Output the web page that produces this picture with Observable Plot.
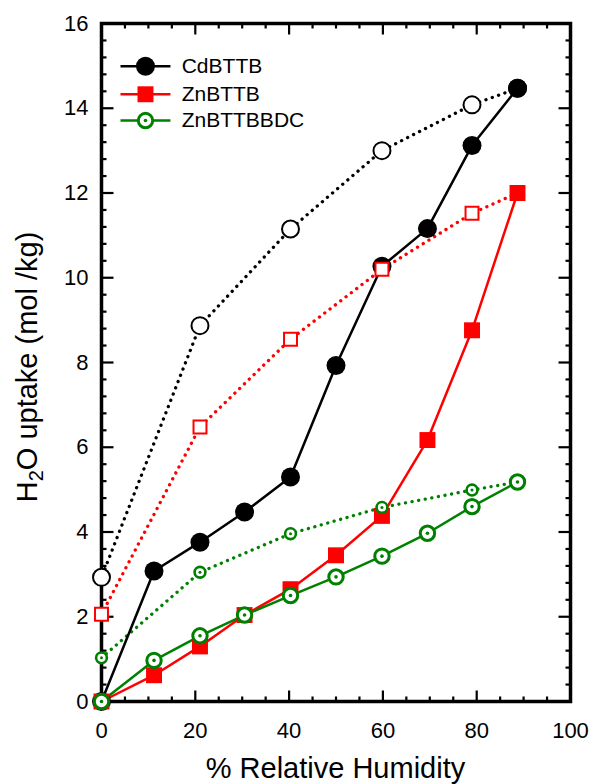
<!DOCTYPE html>
<html><head><meta charset="utf-8">
<script src="https://cdn.jsdelivr.net/npm/d3@7"></script>
<script src="https://cdn.jsdelivr.net/npm/@observablehq/plot@0.6"></script>
<style>body{margin:0;background:#fff} #chart{width:594px;height:784px}</style>
</head><body><div id="chart"></div>
<script>
// ---- data ----
const rhAds = [0, 11.2, 21, 30.5, 40.3, 50, 59.8, 69.5, 79, 88.7];
const rhDes = [88.7, 79, 59.8, 40.3, 21, 0];
const cdAds = [0, 3.08, 3.76, 4.47, 5.3, 7.93, 10.27, 11.16, 13.12, 14.47];
const cdDes = [14.47, 14.08, 13.0, 11.15, 8.87, 2.93];
const znAds = [0, 0.62, 1.3, 2.04, 2.65, 3.45, 4.38, 6.17, 8.76, 12.0];
const znDes = [12.0, 11.52, 10.2, 8.55, 6.48, 2.06];
const bdcAds = [0, 0.97, 1.55, 2.04, 2.5, 2.94, 3.43, 3.97, 4.6, 5.18];
const bdcDes = [5.18, 4.99, 4.58, 3.96, 3.05, 1.03];
const seriesNames = ["CdBTTB", "ZnBTTB", "ZnBTTBBDC"];
const seriesColors = ["#000000", "#ff0000", "#008000"];
const xTicks = [0, 20, 40, 60, 80, 100];
const yTicks = [0, 2, 4, 6, 8, 10, 12, 14, 16];
const xTitle = "% Relative Humidity";

// ---- tables built from the arrays ----
const ads = [cdAds, znAds, bdcAds];
const des = [cdDes, znDes, bdcDes];
const adsRows = ads.map((vals, i) => vals.map((v, j) => ({s: seriesNames[i], x: rhAds[j], y: v})));
const desRows = des.map((vals, i) => vals.map((v, j) => ({s: seriesNames[i], x: rhDes[j], y: v})));

const xMinor = d3.range(0, 100.001, 5).filter(v => v % 20 !== 0);
const yMinor = d3.range(0, 16.001, 0.4).map(v => +v.toFixed(1)).filter(v => Math.abs(v / 2 - Math.round(v / 2)) > 1e-6);

const W = 594, H = 784, ML = 101, MR = 24, MT = 23, MB = 83;
const FW = W - ML - MR, FH = H - MT - MB;
// pixel lengths converted to data units for tick marks
const pxX = 100 / FW, pxY = 16 / FH;
const tk = {stroke: "#000", strokeWidth: 2.2};
const tickMarks = [
  Plot.link(xTicks, {x1: d => d, x2: d => d, y1: 0, y2: 11 * pxY, ...tk}),
  Plot.link(xMinor, {x1: d => d, x2: d => d, y1: 0, y2: 5 * pxY, ...tk}),
  Plot.link(xTicks, {x1: d => d, x2: d => d, y1: 16, y2: 16 - 11 * pxY, ...tk}),
  Plot.link(xMinor, {x1: d => d, x2: d => d, y1: 16, y2: 16 - 5 * pxY, ...tk}),
  Plot.link(yTicks, {y1: d => d, y2: d => d, x1: 0, x2: 12 * pxX, ...tk}),
  Plot.link(yMinor, {y1: d => d, y2: d => d, x1: 0, x2: 5 * pxX, ...tk}),
  Plot.link(yTicks, {y1: d => d, y2: d => d, x1: 100, x2: 100 - 12 * pxX, ...tk}),
  Plot.link(yMinor, {y1: d => d, y2: d => d, x1: 100, x2: 100 - 5 * pxX, ...tk}),
];

// legend layout (data units)
const legX1 = 4.05, legX2 = 14.7, legXm = 9.38, legXt = 17.1;
const legY = [14.99, 14.33, 13.71];
const legRows = seriesNames.map((s, i) => ({s, y: legY[i], c: seriesColors[i]}));

const dotted = {strokeDasharray: "0.1,6.6", strokeWidth: 3.3, strokeLinecap: "round"};
const marks = [
  ...tickMarks,
  Plot.axisX({ticks: xTicks, tickSize: 0, tickPadding: 21, fontSize: 22, tickFormat: d => d, label: null}),
  Plot.axisY({ticks: yTicks, tickSize: 0, tickPadding: 13, fontSize: 22, tickFormat: d => d, label: null}),
  Plot.frame({stroke: "#000", strokeWidth: 3.5}),
];
// dotted desorption lines
desRows.forEach((rows, i) => marks.push(Plot.line(rows, {x: "x", y: "y", stroke: seriesColors[i], ...dotted})));
// solid adsorption lines
adsRows.forEach((rows, i) => marks.push(Plot.line(rows, {x: "x", y: "y", stroke: seriesColors[i], strokeWidth: 2.5})));
// markers
marks.push(
  Plot.dot(desRows[0], {x: "x", y: "y", r: 8.5, fill: "#fff", stroke: "#000", strokeWidth: 2}),
  Plot.dot(adsRows[0], {x: "x", y: "y", r: 9.5, fill: "#000"}),
  Plot.dot(desRows[1], {x: "x", y: "y", symbol: "square", r: 7.3, fill: "#fff", stroke: "#ff0000", strokeWidth: 2}),
  Plot.dot(adsRows[1], {x: "x", y: "y", symbol: "square", r: 9, fill: "#ff0000"}),
  Plot.dot(desRows[2], {x: "x", y: "y", r: 5.4, fill: "#fff", stroke: "#008000", strokeWidth: 2.6}),
  Plot.dot(desRows[2], {x: "x", y: "y", r: 1.5, fill: "#008000"}),
  Plot.dot(adsRows[2], {x: "x", y: "y", r: 7.2, fill: "#fff", stroke: "#008000", strokeWidth: 3}),
  Plot.dot(adsRows[2], {x: "x", y: "y", r: 1.8, fill: "#008000"}),
  // legend
  Plot.link(legRows, {x1: () => legX1, x2: () => legX2, y1: "y", y2: "y", stroke: "c", strokeWidth: 2.5}),
  Plot.dot(legRows.slice(0, 1), {x: () => legXm, y: "y", r: 9.5, fill: "#000"}),
  Plot.dot(legRows.slice(1, 2), {x: () => legXm, y: "y", symbol: "square", r: 9, fill: "#ff0000"}),
  Plot.dot(legRows.slice(2, 3), {x: () => legXm, y: "y", r: 7.2, fill: "#fff", stroke: "#008000", strokeWidth: 3}),
  Plot.dot(legRows.slice(2, 3), {x: () => legXm, y: "y", r: 1.8, fill: "#008000"}),
  Plot.text(legRows, {x: () => legXt, y: "y", text: "s", textAnchor: "start", fontSize: 21, fill: "#000"})
);

const chart = Plot.plot({
  width: W, height: H,
  marginLeft: ML, marginRight: MR, marginTop: MT, marginBottom: MB,
  x: {domain: [0, 100]},
  y: {domain: [0, 16]},
  style: {fontFamily: "'Liberation Sans', Arial, sans-serif", fontSize: "22px", color: "#000", background: "#fff"},
  marks
});

const svg = d3.select(chart);
const font = "'Liberation Sans', Arial, sans-serif";
svg.append("text")
  .attr("x", 335.5).attr("y", 778)
  .attr("text-anchor", "middle").attr("font-size", 29).attr("font-family", font).attr("fill", "#000")
  .text(xTitle);
const yt = svg.append("text")
  .attr("transform", "translate(36.5,367) rotate(-90)")
  .attr("text-anchor", "middle").attr("font-size", 29).attr("font-family", font).attr("fill", "#000");
yt.append("tspan").text("H");
yt.append("tspan").attr("font-size", 20).attr("dy", 6).text("2");
yt.append("tspan").attr("dy", -6).text("O uptake (mol /kg)");

document.getElementById("chart").appendChild(chart);
</script>
</body></html>
